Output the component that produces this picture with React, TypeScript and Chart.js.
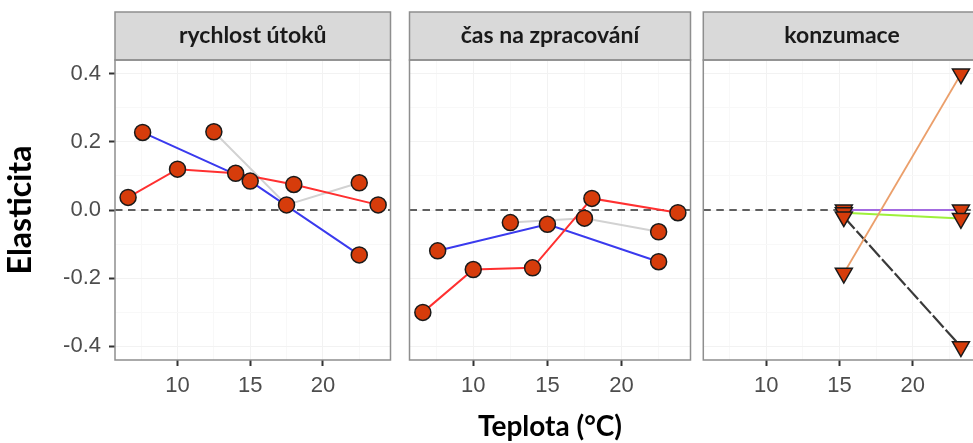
import React, { useEffect, useRef } from 'react';
import { Chart, registerables } from 'chart.js';

Chart.register(...registerables);

// ---- data ----
const xRange = [5.7, 24.65];
const yRange = [-0.441, 0.441];

const yTickValues = [-0.4, -0.3, -0.2, -0.1, 0, 0.1, 0.2, 0.3, 0.4];
const yTickLabels = ['-0.4', '', '-0.2', '', '0.0', '', '0.2', '', '0.4'];
const xTickValues = [7.5, 10, 12.5, 15, 17.5, 20, 22.5];
const xTickLabels = ['', '10', '', '15', '', '20', ''];

const panelTitles = ['rychlost útoků', 'čas na zpracování', 'konzumace'];
const xTitle = 'Teplota (°C)';
const yTitle = 'Elasticita';

const redTemps = [6.6, 10, 14, 18, 23.8];
const blueTemps = [7.6, 15, 22.5];
const grayTemps = [12.5, 17.5, 22.5];

const attackRed = [0.037, 0.12, 0.108, 0.075, 0.015];
const attackBlue = [0.228, 0.085, -0.132];
const attackGray = [0.23, 0.015, 0.08];

const handlingRed = [-0.301, -0.175, -0.17, 0.034, -0.008];
const handlingBlue = [-0.12, -0.042, -0.152];
const handlingGray = [-0.037, -0.024, -0.064];

const consTemps = [15.3, 23.3];
const consOrange = [-0.186, 0.4];
const consDark = [-0.02, -0.402];
const consPurple = [0, 0];
const consGreen = [-0.008, -0.025];

// ---- styles ----
const POINT_FILL = '#d63c0b';
const POINT_EDGE = '#1a1a1a';
const TICK_FONT = { family: '"Liberation Sans", Arial, sans-serif', size: 22 };
const TITLE_FAMILY = 'Lato, "Open Sans", sans-serif';

const toXY = (xs: number[], ys: number[]) => xs.map((x, i) => ({ x, y: ys[i] }));

function lineDs(xs: number[], ys: number[], color: string, dash: number[] = [], width = 2) {
  return {
    data: toXY(xs, ys),
    showLine: true,
    borderColor: color,
    borderWidth: width,
    borderDash: dash,
    pointRadius: 0,
    fill: false,
    tension: 0,
  };
}

function pointDs(xs: number[], ys: number[], tri: boolean) {
  return {
    data: toXY(xs, ys),
    showLine: false,
    pointStyle: tri ? 'triangle' : 'circle',
    pointRotation: tri ? 180 : 0,
    pointRadius: tri ? 9.8 : 8,
    pointBackgroundColor: POINT_FILL,
    pointBorderColor: POINT_EDGE,
    pointBorderWidth: 1.5,
    clip: false,
  };
}

function zeroDs() {
  return {
    data: [{ x: xRange[0], y: 0 }, { x: xRange[1], y: 0 }],
    showLine: true,
    borderColor: '#606060',
    borderWidth: 2.2,
    borderDash: [7.5, 5.5],
    pointRadius: 0,
  };
}

function buildDatasets(panel: number) {
  if (panel === 2) {
    return [
      pointDs(consTemps, consOrange, true),
      pointDs(consTemps, consDark, true),
      pointDs(consTemps, consGreen, true),
      pointDs(consTemps, consPurple, true),
      lineDs(consTemps, consOrange, '#eb9f6b', [], 1.8),
      lineDs(consTemps, consDark, '#3a3a3a', [16, 3], 2.2),
      lineDs(consTemps, consGreen, '#9ef03a'),
      lineDs(consTemps, consPurple, '#a36ae0'),
      zeroDs(),
    ];
  }
  const red = panel === 0 ? attackRed : handlingRed;
  const blue = panel === 0 ? attackBlue : handlingBlue;
  const gray = panel === 0 ? attackGray : handlingGray;
  return [
    pointDs(redTemps, red, false),
    pointDs(blueTemps, blue, false),
    pointDs(grayTemps, gray, false),
    lineDs(redTemps, red, '#ff3030'),
    lineDs(blueTemps, blue, '#3a3aee'),
    lineDs(grayTemps, gray, '#d2d2d2'),
    zeroDs(),
  ];
}

const isMajorX = (v: number) => xTickLabels[xTickValues.indexOf(v)] !== '';
const isMajorY = (v: number) => {
  const i = yTickValues.findIndex((t) => Math.abs(t - v) < 1e-9);
  return i >= 0 && yTickLabels[i] !== '';
};

const framePlugin = {
  id: 'facetFrame',
  afterDraw(chart: any) {
    const { ctx, chartArea } = chart;
    const { left, right, top, bottom } = chartArea;
    const title = chart.options.plugins.facetFrame.title;
    const stripTop = 12;
    ctx.save();
    ctx.fillStyle = '#d9d9d9';
    ctx.fillRect(left, stripTop, right - left, top - stripTop);
    ctx.strokeStyle = '#8e8e8e';
    ctx.lineWidth = 1.5;
    ctx.strokeRect(left, stripTop, right - left, top - stripTop);
    ctx.strokeRect(left, top, right - left, bottom - top);
    ctx.fillStyle = '#1a1a1a';
    ctx.font = `bold 23px ${TITLE_FAMILY}`;
    ctx.textAlign = 'center';
    ctx.textBaseline = 'middle';
    ctx.fillText(title, (left + right) / 2, (stripTop + top) / 2);
    ctx.restore();
  },
};

type PanelProps = {
  index: number;
  canvasLeft: number;
  canvasWidth: number;
  padLeft: number;
  padRight: number;
};

function Panel({ index, canvasLeft, canvasWidth, padLeft, padRight }: PanelProps) {
  const ref = useRef<HTMLCanvasElement | null>(null);
  useEffect(() => {
    if (!ref.current) return;
    const showY = index === 0;
    const showXTitle = index === 1;
    const chart = new Chart(ref.current, {
      type: 'scatter',
      data: { datasets: buildDatasets(index) as any },
      plugins: [framePlugin],
      options: {
        animation: false,
        responsive: false,
        events: [],
        layout: { padding: { left: padLeft, right: padRight, top: 60, bottom: 0 } },
        plugins: {
          legend: { display: false },
          tooltip: { enabled: false },
          facetFrame: { title: panelTitles[index] },
        } as any,
        scales: {
          x: {
            type: 'linear',
            min: xRange[0],
            max: xRange[1],
            afterBuildTicks: (s: any) => {
              s.ticks = xTickValues.map((v) => ({ value: v }));
            },
            afterFit: (s: any) => {
              s.height = 83;
            },
            border: { display: false },
            grid: {
              color: (c: any) => (isMajorX(c.tick.value) ? '#f2f2f2' : '#f8f8f8'),
              tickColor: (c: any) => (isMajorX(c.tick.value) ? '#333333' : 'rgba(0,0,0,0)'),
              tickWidth: 2,
              tickLength: 6,
              lineWidth: 1,
            },
            ticks: {
              autoSkip: false,
              maxRotation: 0,
              padding: 7,
              color: '#4d4d4d',
              font: TICK_FONT,
              callback: (_v: any, i: number) => xTickLabels[i],
            },
            title: {
              display: showXTitle,
              text: xTitle,
              color: '#000000',
              font: { family: TITLE_FAMILY, size: 28, weight: 'bold', lineHeight: 1 },
              padding: { top: 0, bottom: 2 },
            },
          },
          y: {
            type: 'linear',
            min: yRange[0],
            max: yRange[1],
            afterBuildTicks: (s: any) => {
              s.ticks = yTickValues.map((v) => ({ value: v }));
            },
            afterFit: (s: any) => {
              s.width = showY ? 115 : 0;
            },
            border: { display: false },
            grid: {
              color: (c: any) => (isMajorY(c.tick.value) ? '#f2f2f2' : '#f8f8f8'),
              tickColor: (c: any) => (isMajorY(c.tick.value) ? '#333333' : 'rgba(0,0,0,0)'),
              tickWidth: 2,
              tickLength: 6,
              drawTicks: showY,
              lineWidth: 1,
            },
            ticks: {
              display: showY,
              padding: 8,
              color: '#4d4d4d',
              font: TICK_FONT,
              callback: (_v: any, i: number) => yTickLabels[i],
            },
            title: {
              display: showY,
              text: yTitle,
              color: '#000000',
              font: { family: TITLE_FAMILY, size: 32, weight: 'bold', lineHeight: 1 },
              padding: { top: 4.6, bottom: 0 },
            },
          },
        },
      } as any,
    });
    return () => chart.destroy();
  }, [index, padLeft, padRight]);

  return (
    <canvas
      ref={ref}
      width={canvasWidth}
      height={443}
      style={{ position: 'absolute', left: canvasLeft, top: 0, width: canvasWidth, height: 443 }}
    />
  );
}

export default function App() {
  return (
    <div
      style={{
        position: 'fixed',
        left: 0,
        top: 0,
        width: 973,
        height: 443,
        overflow: 'hidden',
        background: '#ffffff',
      }}
    >
      <Panel index={0} canvasLeft={0} canvasWidth={400} padLeft={0} padRight={0.5} />
      <Panel index={1} canvasLeft={400} canvasWidth={300} padLeft={7.5} padRight={8} />
      <Panel index={2} canvasLeft={692} canvasWidth={300} padLeft={7.5} padRight={8} />
    </div>
  );
}
